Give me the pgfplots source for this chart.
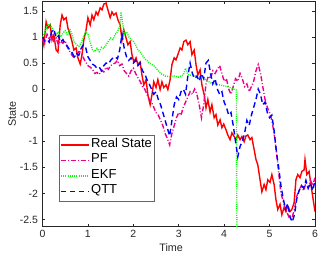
\documentclass[border=0pt]{standalone}
\usepackage{pgfplots}
\pgfplotsset{compat=1.18}
\usepackage{fontspec}
\setmainfont{Liberation Sans}
\definecolor{axgray}{rgb}{0.15,0.15,0.15}
\begin{document}
\begin{tikzpicture}
\begin{axis}[
  scale only axis, width=272.5pt, height=225.7pt,
  xmin=0, xmax=6, ymin=-2.64, ymax=1.69,
  xtick={0,1,2,3,4,5,6}, ytick={-2.5,-2,-1.5,-1,-0.5,0,0.5,1,1.5},
  tick pos=both, tick align=inside, major tick length=3pt,
  axis line style={axgray, line width=0.5pt},
  tick style={axgray, line width=0.5pt},
  /pgf/number format/assume math mode=true,
  tick label style={font=\fontsize{10.5}{12}\selectfont, text=axgray},
  yticklabel style={xshift=-1pt},
  label style={font=\fontsize{10.8}{12}\selectfont, text=axgray},
  xlabel={Time}, ylabel={State},
  xlabel style={at={(ticklabel cs:0.472)}, anchor=near ticklabel, yshift=1pt},
  ylabel style={yshift=-3pt},
  legend style={at={(rel axis cs:0.0606,0.406)}, anchor=north west,
    draw=black!60, line width=0.5pt, font=\fontsize{13}{15}\selectfont,
    inner xsep=1pt, inner ysep=3pt, row sep=2.5pt,
    nodes={inner sep=1.5pt, text height=0.75em, text depth=0.25em}},
  legend cell align=left,
  legend image code/.code={\draw[#1] (0pt,0pt) -- (28pt,0pt);},
  every axis plot/.append style={line width=1.4pt},
]
\addplot[draw=red, solid] coordinates {
(0,1.0)(0.03,0.85)(0.08,1.29)(0.12,1.17)(0.17,1.23)(0.21,0.94)(0.25,1.04)(0.30,0.75)(0.34,0.71)(0.39,1.23)
(0.43,1.42)(0.47,1.33)(0.52,1.37)(0.56,1.17)(0.61,1.04)(0.65,0.91)(0.69,0.75)(0.74,0.79)(0.78,0.60)(0.83,0.48)
(0.87,0.66)(0.91,0.94)(0.96,1.14)(1.00,1.37)(1.05,1.23)(1.09,1.42)(1.13,1.33)(1.18,1.48)(1.22,1.42)(1.27,1.56)
(1.31,1.52)(1.35,1.63)(1.40,1.65)(1.44,1.52)(1.49,1.37)(1.53,1.48)(1.57,1.42)(1.62,1.46)(1.66,1.33)(1.71,1.23)
(1.75,0.94)(1.79,1.14)(1.84,0.98)(1.88,0.85)(1.93,0.91)(1.97,0.66)(2.01,0.52)(2.06,0.60)(2.10,0.47)(2.15,0.52)
(2.19,0.27)(2.23,0.08)(2.28,0.18)(2.32,-0.11)(2.37,-0.30)(2.41,-0.11)(2.45,0.14)(2.50,0.03)(2.54,0.18)(2.59,-0.01)
(2.63,0.14)(2.67,0.03)(2.72,0.08)(2.76,-0.01)(2.81,0.18)(2.85,0.47)(2.90,0.60)(2.94,0.56)(2.98,0.66)(3.03,0.79)
(3.07,0.75)(3.11,0.91)(3.16,0.94)(3.20,0.85)(3.25,0.91)(3.29,0.66)(3.34,0.75)(3.38,0.47)(3.42,0.27)(3.47,0.37)
(3.51,0.08)(3.56,-0.11)(3.60,-0.36)(3.64,-0.20)(3.69,-0.44)(3.73,-0.30)(3.78,-0.55)(3.82,-0.49)(3.86,-0.69)(3.91,-0.59)
(3.95,-0.74)(3.99,-0.67)(4.04,-0.78)(4.08,-0.88)(4.13,-0.97)(4.17,-0.84)(4.22,-0.91)(4.26,-0.97)(4.30,-0.88)(4.35,-0.97)
(4.39,-0.91)(4.44,-1.01)(4.48,-0.90)(4.52,-0.88)(4.57,-0.97)(4.61,-0.93)(4.66,-1.16)(4.70,-1.35)(4.74,-1.45)(4.79,-1.74)
(4.83,-1.97)(4.88,-1.83)(4.92,-1.93)(4.96,-1.74)(5.01,-1.79)(5.05,-1.64)(5.10,-1.83)(5.14,-2.12)(5.18,-2.31)(5.23,-2.21)
(5.27,-2.41)(5.32,-2.27)(5.36,-2.35)(5.40,-2.24)(5.45,-2.35)(5.49,-2.31)(5.54,-2.18)(5.58,-1.74)(5.62,-1.64)(5.67,-1.70)
(5.71,-1.58)(5.76,-1.55)(5.78,-1.35)(5.82,-1.64)(5.87,-1.58)(5.91,-1.83)(5.96,-2.12)(6.0,-2.35)
};
\addlegendentry{Real State\hspace{4pt}}
\addplot[draw=magenta, dash pattern=on 5pt off 2pt on 1pt off 2pt] coordinates {
(0,0.95)(0.05,0.88)(0.1,1.05)(0.15,0.95)(0.2,1.07)(0.25,0.92)(0.3,0.98)(0.35,0.85)(0.4,0.92)(0.45,0.88)
(0.5,0.93)(0.55,0.8)(0.6,0.72)(0.65,0.65)(0.7,0.6)(0.75,0.66)(0.8,0.72)(0.85,0.70)(0.9,0.6)(0.95,0.52)
(1.0,0.45)(1.05,0.42)(1.1,0.38)(1.15,0.3)(1.2,0.32)(1.25,0.28)(1.3,0.36)(1.35,0.33)(1.4,0.42)(1.45,0.38)
(1.5,0.45)(1.55,0.48)(1.6,0.50)(1.65,0.55)(1.7,0.45)(1.75,0.48)(1.8,0.35)(1.85,0.30)(1.9,0.25)(1.95,0.35)
(2.0,0.40)(2.05,0.30)(2.1,0.22)(2.15,0.15)(2.2,0.05)(2.25,0.0)(2.3,-0.1)(2.35,-0.2)(2.4,-0.25)(2.45,-0.35)
(2.5,-0.45)(2.55,-0.5)(2.6,-0.6)(2.65,-0.7)(2.7,-0.85)(2.75,-0.95)(2.8,-1.07)(2.85,-0.85)(2.9,-0.7)(2.95,-0.55)
(3.0,-0.45)(3.05,-0.5)(3.1,-0.35)(3.15,-0.25)(3.2,-0.15)(3.25,-0.05)(3.3,-0.1)(3.35,0.0)(3.4,-0.1)(3.45,-0.3)
(3.5,-0.55)(3.55,-0.3)(3.6,0.1)(3.65,0.25)(3.7,0.2)(3.75,0.35)(3.8,0.3)(3.85,0.38)(3.9,0.45)(3.95,0.3)
(4.0,0.15)(4.05,0.2)(4.1,0.0)(4.15,-0.1)(4.2,0.05)(4.25,0.2)(4.3,0.15)(4.35,0.3)(4.4,0.2)(4.45,0.05)
(4.5,0.1)(4.55,-0.05)(4.6,0.05)(4.65,0.15)(4.7,0.35)(4.75,0.47)(4.8,0.3)(4.85,0.05)(4.9,-0.2)(4.95,-0.35)
(5.0,-0.45)(5.05,-0.6)(5.1,-0.85)(5.15,-1.2)(5.2,-1.6)(5.25,-2.0)(5.3,-2.15)(5.35,-2.3)(5.4,-2.4)(5.45,-2.5)
(5.5,-2.45)(5.55,-2.3)(5.6,-2.05)(5.65,-1.95)(5.7,-1.85)(5.75,-1.95)(5.8,-1.8)(5.85,-1.9)(5.9,-1.75)(5.95,-1.85)(6.0,-1.7)
};
\addlegendentry{PF}
\addplot[draw=green, dash pattern=on 1pt off 1.2pt] coordinates {
(0,1.0)(0.05,1.08)(0.1,1.2)(0.15,1.25)(0.2,1.18)(0.25,1.12)(0.3,1.05)(0.35,1.1)(0.4,1.0)(0.45,1.08)
(0.5,1.12)(0.55,1.02)(0.6,1.15)(0.65,1.05)(0.7,0.9)(0.75,0.85)(0.8,0.82)(0.85,0.88)(0.9,1.0)(0.95,1.1)
(1.0,1.05)(1.05,0.9)(1.1,0.75)(1.15,0.72)(1.2,0.78)(1.25,0.72)(1.3,0.8)(1.35,0.78)(1.4,0.85)(1.45,0.92)
(1.5,0.98)(1.55,0.95)(1.6,1.05)(1.65,1.1)(1.7,1.2)(1.73,1.48)(1.76,1.3)(1.8,1.05)(1.85,1.1)(1.9,1.0)
(1.95,0.95)(2.0,0.92)(2.05,0.85)(2.1,0.75)(2.15,0.72)(2.2,0.65)(2.25,0.58)(2.3,0.55)(2.35,0.5)(2.4,0.48)
(2.45,0.45)(2.5,0.4)(2.55,0.35)(2.6,0.3)(2.65,0.28)(2.7,0.25)(2.8,0.24)(2.9,0.25)(3.0,0.23)(3.1,0.27)
(3.15,0.4)(3.2,0.28)(3.3,0.26)(3.4,0.25)(3.5,0.22)(3.6,0.18)(3.7,0.12)(3.8,0.1)(3.9,0.08)(4.0,0.06)
(4.1,0.04)(4.2,0.0)(4.27,-0.02)(4.28,-3.0)
};
\addlegendentry{EKF}
\addplot[draw=blue, dash pattern=on 5.5pt off 3.5pt] coordinates {
(0,1.0)(0.05,0.92)(0.1,0.95)(0.15,0.9)(0.2,1.1)(0.25,1.15)(0.3,0.98)(0.35,1.02)(0.4,0.9)(0.45,0.95)
(0.5,0.85)(0.55,0.82)(0.6,0.75)(0.65,0.7)(0.7,0.62)(0.75,0.68)(0.8,0.65)(0.85,0.78)(0.9,0.85)(0.95,0.8)
(1.0,0.62)(1.05,0.55)(1.1,0.48)(1.15,0.45)(1.2,0.40)(1.25,0.42)(1.3,0.35)(1.35,0.45)(1.4,0.50)(1.45,0.48)
(1.5,0.55)(1.55,0.60)(1.6,0.62)(1.65,0.58)(1.7,0.75)(1.75,1.05)(1.8,0.78)(1.85,0.62)(1.9,0.55)(1.95,0.6)
(2.0,0.5)(2.05,0.55)(2.1,0.45)(2.15,0.5)(2.2,0.35)(2.25,0.3)(2.3,0.18)(2.35,0.1)(2.4,0.0)(2.45,-0.1)
(2.5,-0.05)(2.55,-0.2)(2.6,-0.3)(2.65,-0.45)(2.7,-0.6)(2.75,-0.75)(2.8,-0.9)(2.85,-0.6)(2.9,-0.3)(2.95,-0.15)
(3.0,-0.2)(3.05,-0.05)(3.1,0.0)(3.15,-0.1)(3.2,0.25)(3.25,0.5)(3.3,0.3)(3.35,0.2)(3.4,0.25)(3.45,0.15)
(3.5,0.3)(3.55,0.2)(3.6,0.5)(3.65,0.55)(3.7,0.3)(3.75,0.1)(3.8,0.2)(3.85,0.0)(3.9,-0.1)(3.95,-0.05)
(4.0,-0.25)(4.05,-0.35)(4.1,-0.5)(4.15,-0.45)(4.2,-0.7)(4.25,-1.0)(4.3,-1.3)(4.35,-1.1)(4.4,-1.0)(4.45,-0.85)
(4.5,-0.6)(4.55,-0.7)(4.6,-0.5)(4.65,-0.35)(4.7,-0.2)(4.75,0.0)(4.8,-0.1)(4.85,-0.3)(4.9,-0.25)(4.95,-0.45)
(5.0,-0.55)(5.05,-0.5)(5.1,-0.8)(5.15,-1.2)(5.2,-1.5)(5.25,-1.85)(5.3,-2.1)(5.35,-2.3)(5.4,-2.2)(5.45,-2.45)
(5.5,-2.55)(5.55,-2.4)(5.6,-2.1)(5.65,-1.95)(5.7,-1.85)(5.75,-1.9)(5.8,-1.75)(5.85,-1.9)(5.9,-1.8)(5.95,-1.95)(6.0,-1.75)
};
\addlegendentry{QTT}
\end{axis}
\pgfresetboundingbox
\path[use as bounding box] (-42.5pt,-32.3pt) rectangle (276.5pt,226.7pt);
\end{tikzpicture}
\end{document}
